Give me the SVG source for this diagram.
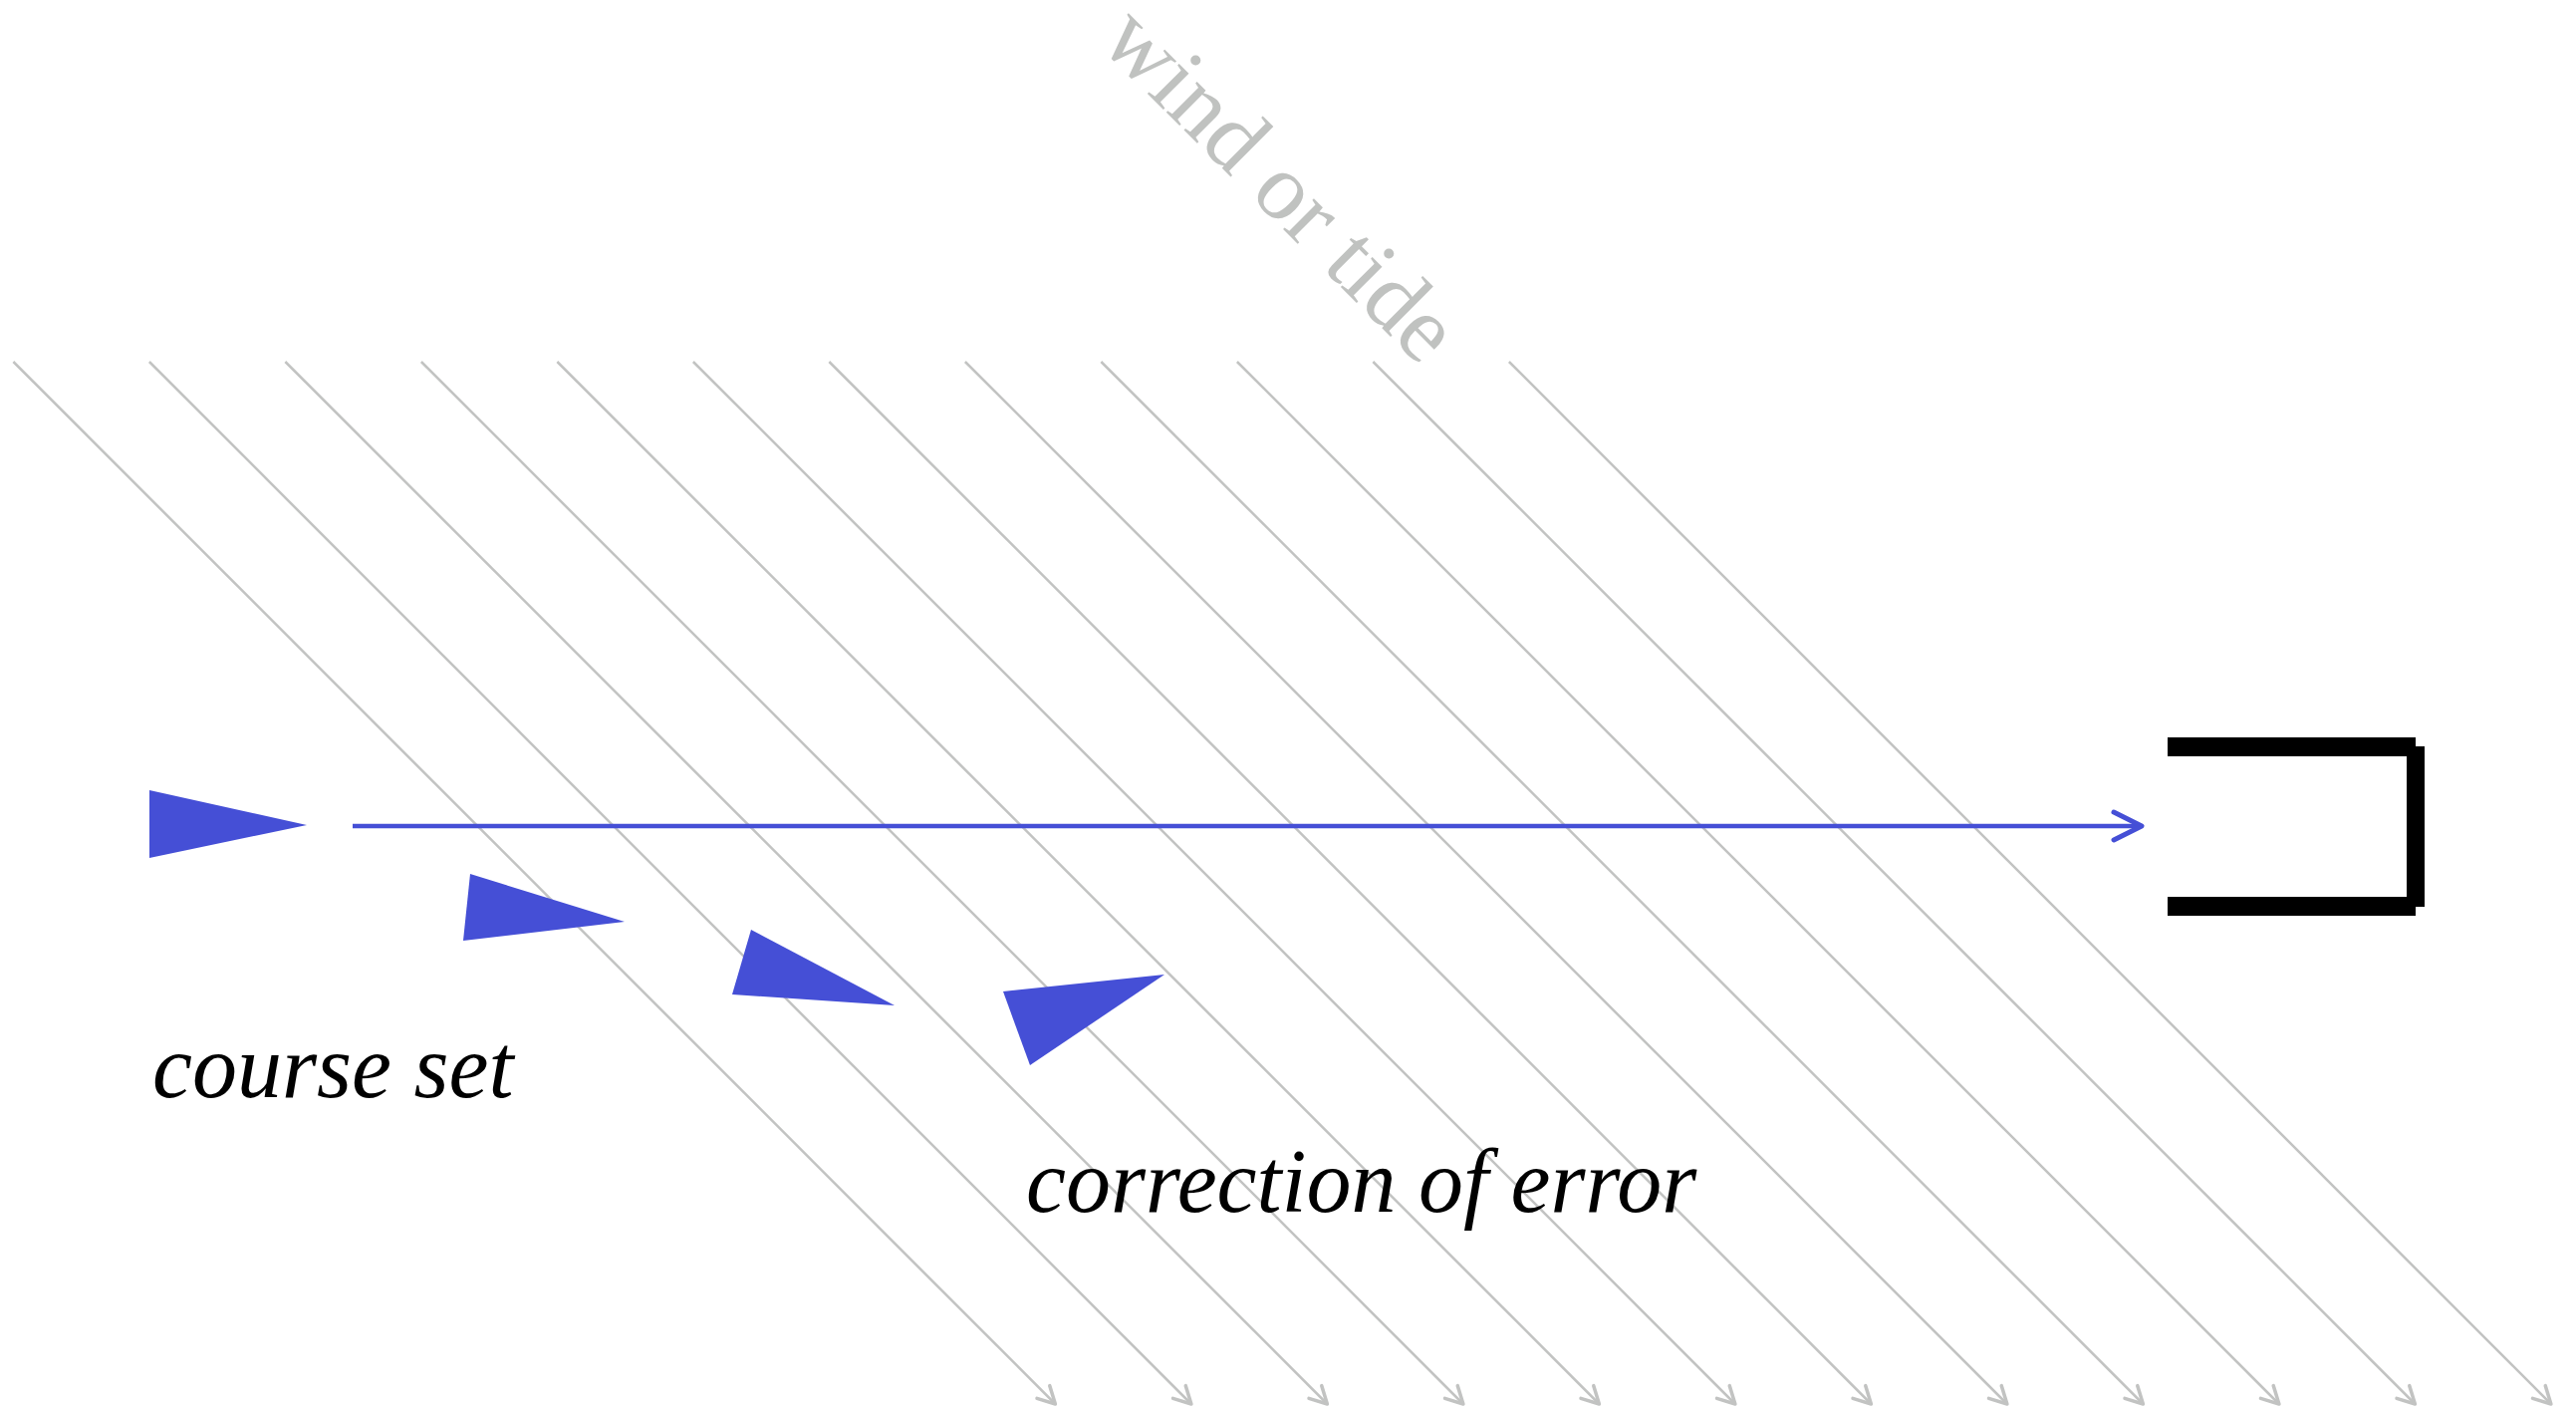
<svg xmlns="http://www.w3.org/2000/svg" width="2586" height="1414" viewBox="0 0 2586 1414">
<defs>
<style>
.wind{stroke:#c2c3c2;stroke-width:2.5;fill:none;marker-end:url(#gray-head)}
.boat{fill:#454fd6}
.lbl{font-family:"Liberation Serif","Times New Roman",serif;font-style:italic;font-size:90px;fill:#000}
.windlbl{font-family:"Liberation Serif","Times New Roman",serif;font-size:95px;fill:#c0c2c0}
</style>
<marker id="gray-head" viewBox="-20 -12 24 24" markerWidth="24" markerHeight="24" refX="0" refY="0" orient="auto" markerUnits="userSpaceOnUse">
<path d="M-17,-9 L0,0 L-17,9" fill="none" stroke="#c2c3c2" stroke-width="3.5" stroke-linecap="round" stroke-linejoin="round"/>
</marker>
<marker id="blue-head" viewBox="-34 -18 38 36" markerWidth="38" markerHeight="36" refX="0" refY="0" orient="auto" markerUnits="userSpaceOnUse">
<path d="M-28,-14 L0,0 L-28,14" fill="none" stroke="#454fd6" stroke-width="5" stroke-linecap="round" stroke-linejoin="round"/>
</marker>
</defs>
<rect width="2586" height="1414" fill="#fff"/>
<g id="wind-lines">
<line class="wind" x1="13.4" y1="363" x2="1059.4" y2="1409"/>
<line class="wind" x1="149.9" y1="363" x2="1195.9" y2="1409"/>
<line class="wind" x1="286.4" y1="363" x2="1332.4" y2="1409"/>
<line class="wind" x1="422.9" y1="363" x2="1468.9" y2="1409"/>
<line class="wind" x1="559.4" y1="363" x2="1605.4" y2="1409"/>
<line class="wind" x1="695.9" y1="363" x2="1741.9" y2="1409"/>
<line class="wind" x1="832.4" y1="363" x2="1878.4" y2="1409"/>
<line class="wind" x1="968.9" y1="363" x2="2014.9" y2="1409"/>
<line class="wind" x1="1105.4" y1="363" x2="2151.4" y2="1409"/>
<line class="wind" x1="1241.9" y1="363" x2="2287.9" y2="1409"/>
<line class="wind" x1="1378.4" y1="363" x2="2424.4" y2="1409"/>
<line class="wind" x1="1514.9" y1="363" x2="2560.9" y2="1409"/>
</g>
<g id="wind-label">
<text class="windlbl" transform="translate(1102,44) rotate(45)">wind or tide</text>
</g>
<g id="boats">
<polygon class="boat" points="150,793 150,861 308,828"/>
<polygon class="boat" points="472,877 465,944 627,925"/>
<polygon class="boat" points="754,933 735,998 898,1009"/>
<polygon class="boat" points="1007,995 1034,1069 1169,978"/>
</g>
<g id="connectors">
<line x1="354" y1="829" x2="2150" y2="829" stroke="#454fd6" stroke-width="4.5" marker-end="url(#blue-head)"/>
</g>
<g id="harbour">
<rect x="2176" y="740" width="249" height="19" fill="#000"/>
<rect x="2416" y="749" width="18" height="161" fill="#000"/>
<rect x="2176" y="900" width="249" height="19" fill="#000"/>
</g>
<g id="labels">
<text class="lbl" x="153" y="1101">course set</text>
<text class="lbl" x="1030" y="1216">correction of error</text>
</g>
</svg>
